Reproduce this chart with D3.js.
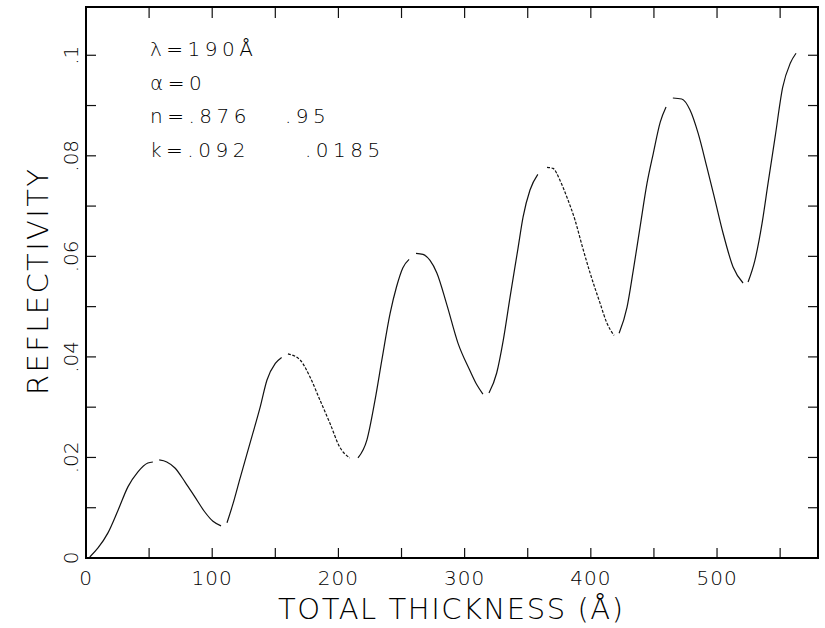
<!DOCTYPE html>
<html>
<head>
<meta charset="utf-8">
<script src="https://cdn.jsdelivr.net/npm/d3@7"></script>
<style>
  html, body { margin: 0; padding: 0; background: #fff; }
  svg text { font-family: "DejaVu Sans", sans-serif; font-weight: 200; fill: #000; }
</style>
</head>
<body>
<div id="chart"></div>
<script>
// thickness (Å) and reflectivity; null = pen lift between plotted pieces
var thickness = [3, 9.5, 17.4, 25.4, 33.3, 41, 49, 53, null,
    58, 64, 70.5, 78.5, 86.4, 94, 100.6, 107, null,
    111.7, 116.5, 122, 130.7, 138, 143.4, 150, 155, null,
    160, 169.6, 177.5, 185.4, 193.3, 201, 209, null,
    215.5, 222.6, 229, 234.5, 241, 246, 251, 256, null,
    261.5, 267, 272.6, 278, 286, 294.8, 304, 309.8, 314.5, null,
    319.3, 325.4, 330.6, 336, 342.3, 346.3, 351.8, 358, null,
    365.3, 370, 375.6, 381, 387.5, 393, 399.4, 407.3, 412.8, 418.4, null,
    422.4, 428.7, 433.5, 439, 444.5, 449.5, 455, 459.6, null,
    465, 472, 478.6, 485, 492, 498.4, 504.8, 512.7, 520.6, null,
    524.6, 530, 535.7, 540.4, 546, 552, 558, 562.6];
var reflectivity = [0.0002, 0.002, 0.005, 0.0095, 0.0142, 0.0171, 0.0189, 0.0191, null,
    0.0195, 0.0191, 0.0179, 0.0151, 0.0121, 0.0092, 0.0073, 0.0064, null,
    0.007, 0.0108, 0.0158, 0.0235, 0.030, 0.0354, 0.0387, 0.0399, null,
    0.0406, 0.0394, 0.036, 0.0314, 0.0268, 0.0221, 0.0199, null,
    0.0199, 0.0235, 0.0314, 0.0395, 0.0487, 0.0539, 0.0577, 0.0594, null,
    0.0606, 0.0604, 0.0592, 0.0567, 0.0503, 0.0427, 0.0374, 0.0344, 0.0326, null,
    0.0328, 0.0368, 0.0433, 0.0519, 0.0616, 0.0678, 0.0732, 0.0763, null,
    0.0777, 0.0775, 0.0751, 0.0718, 0.0672, 0.0622, 0.0567, 0.0507, 0.0467, 0.0443, null,
    0.0447, 0.0499, 0.057, 0.0658, 0.0745, 0.0805, 0.0867, 0.0897, null,
    0.0915, 0.0913, 0.0891, 0.0845, 0.0777, 0.0712, 0.0646, 0.0579, 0.0547, null,
    0.0549, 0.0592, 0.0666, 0.0745, 0.0837, 0.0936, 0.0984, 0.1004];

var xTicks = [0, 50, 100, 150, 200, 250, 300, 350, 400, 450, 500, 550];
var xLabels = [0, 100, 200, 300, 400, 500];
var yTicks = [0.01, 0.02, 0.03, 0.04, 0.05, 0.06, 0.07, 0.08, 0.09, 0.1];
var yLabels = [0, 0.02, 0.04, 0.06, 0.08, 0.1];
var notes = [["λ=190Å"], ["α=0"], ["n=.876", ".95"], ["k=.092", ".0185"]];
// pieces of the trace that came out dotted on the plotter
var dottedPieces = [3, 7];

var width = 825, height = 628;
var pLeft = 86, pRight = 818, pTop = 7, pBottom = 558;

var x = d3.scaleLinear().domain([0, 580]).range([pLeft, pRight]);
var y = d3.scaleLinear().domain([0, 0.1096]).range([pBottom, pTop]);

var svg = d3.select("#chart").append("svg")
    .attr("width", width)
    .attr("height", height);

var fmtY = function (d) {
    return d === 0 ? "0" : d3.format(".2~f")(d).replace(/^0/, "");
};

// ticks (all point inward)
var tickLen = 10;
var tk = svg.append("g").attr("stroke", "#111").attr("stroke-width", 1.2);
tk.selectAll("line.xb").data(xTicks.slice(1)).enter().append("line")
    .attr("x1", function (d) { return x(d); }).attr("x2", function (d) { return x(d); })
    .attr("y1", pBottom).attr("y2", pBottom - tickLen);
tk.selectAll("line.xt").data(xTicks.slice(1)).enter().append("line")
    .attr("x1", function (d) { return x(d); }).attr("x2", function (d) { return x(d); })
    .attr("y1", pTop).attr("y2", pTop + tickLen + 1);
tk.selectAll("line.yl").data(yTicks).enter().append("line")
    .attr("y1", function (d) { return y(d); }).attr("y2", function (d) { return y(d); })
    .attr("x1", pLeft).attr("x2", pLeft + tickLen);
tk.selectAll("line.yr").data(yTicks).enter().append("line")
    .attr("y1", function (d) { return y(d); }).attr("y2", function (d) { return y(d); })
    .attr("x1", pRight).attr("x2", pRight - tickLen);

// frame
svg.append("rect")
    .attr("x", pLeft).attr("y", pTop)
    .attr("width", pRight - pLeft).attr("height", pBottom - pTop)
    .attr("fill", "none").attr("stroke", "#000").attr("stroke-width", 2);

// tick labels
svg.selectAll("text.xl").data(xLabels).enter().append("text")
    .attr("x", function (d) { return x(d); })
    .attr("y", 585)
    .attr("text-anchor", "middle")
    .attr("font-size", 20)
    .attr("letter-spacing", 1)
    .text(function (d) { return d; });

svg.selectAll("text.yl").data(yLabels).enter().append("text")
    .attr("transform", function (d) { return "translate(78," + y(d) + ") rotate(-90)"; })
    .attr("text-anchor", "middle")
    .attr("font-size", 20)
    .text(fmtY);

// axis titles
svg.append("text")
    .attr("x", 278).attr("y", 619)
    .attr("font-size", 29)
    .attr("textLength", 345)
    .attr("lengthAdjust", "spacing")
    .text("TOTAL THICKNESS (Å)");

svg.append("text")
    .attr("transform", "translate(48,395) rotate(-90)")
    .attr("font-size", 29)
    .attr("textLength", 226)
    .attr("lengthAdjust", "spacing")
    .text("REFLECTIVITY");

// parameter notes, second column placed per line as in the original
var secondCol = [0, 0, 285, 305];
var nt = svg.selectAll("text.note").data(notes).enter().append("text")
    .attr("y", function (d, i) { return 56 + i * 33.7; })
    .attr("font-size", 20)
    .attr("letter-spacing", 4.5);
nt.selectAll("tspan").data(function (d, i) {
        return d.map(function (s, j) { return { s: s, x: j === 0 ? 150 : secondCol[i] }; });
    })
    .enter().append("tspan")
    .attr("x", function (d) { return d.x; })
    .text(function (d) { return d.s; });

// curve: split into the separately plotted pieces
var pieces = [], cur = [];
thickness.forEach(function (t, i) {
    if (t === null || reflectivity[i] === null) {
        if (cur.length) pieces.push(cur);
        cur = [];
    } else {
        cur.push([t, reflectivity[i]]);
    }
});
if (cur.length) pieces.push(cur);

var line = d3.line()
    .x(function (d) { return x(d[0]); })
    .y(function (d) { return y(d[1]); })
    .curve(d3.curveMonotoneX);

svg.append("g").selectAll("path")
    .data(pieces)
    .enter().append("path")
    .attr("fill", "none")
    .attr("stroke", "#111")
    .attr("stroke-width", 1.2)
    .attr("stroke-dasharray", function (d, i) { return dottedPieces.indexOf(i) >= 0 ? "3,1.6" : null; })
    .attr("d", line);
</script>
</body>
</html>
